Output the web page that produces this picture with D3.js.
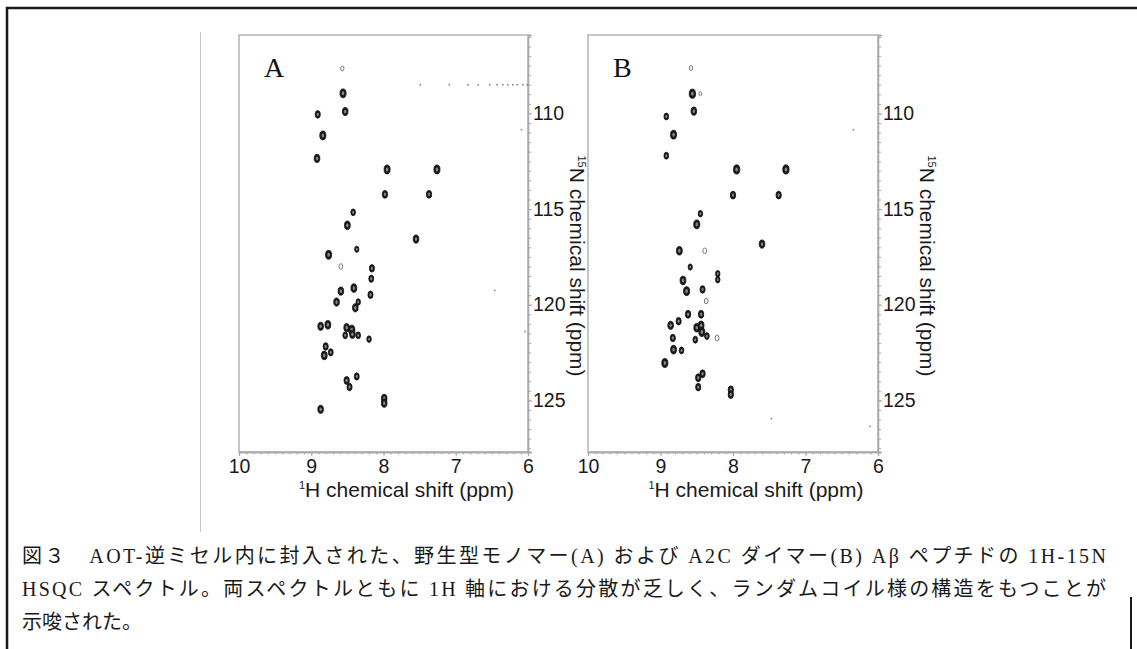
<!DOCTYPE html>
<html>
<head>
<meta charset="utf-8">
<script src="https://cdn.jsdelivr.net/npm/d3@7"></script>
<style>
  body { margin: 0; background: #fff; }
  svg { display: block; }
</style>
</head>
<body>
<script>
// axis values (ppm)
const hDomain = [10, 6]
const nDomain = [105.9, 127.7]
const hTicks = [10, 9, 8, 7, 6]
const nTicks = [110, 115, 120, 125]
const panelLabels = ["A", "B"]

// peaks: [1H ppm, 15N ppm, relative intensity]
const peaksA = [
  [8.57, 107.65, 0.3], [8.56, 108.95, 0.9], [8.53, 109.9, 0.8], [8.91, 110.05, 0.7],
  [8.84, 111.15, 0.9], [8.92, 112.35, 0.8], [7.95, 112.93, 0.9], [7.26, 112.93, 0.9],
  [7.98, 114.23, 0.75], [7.37, 114.23, 0.75], [8.42, 115.17, 0.6], [8.5, 115.85, 0.85],
  [7.55, 116.57, 0.8], [8.76, 117.39, 0.9], [8.37, 117.1, 0.5], [8.59, 118.0, 0.4],
  [8.16, 118.1, 0.7], [8.17, 118.64, 0.65], [8.59, 119.29, 0.8], [8.41, 119.13, 0.85],
  [8.18, 119.48, 0.7], [8.65, 119.86, 0.8], [8.35, 119.86, 0.55], [8.39, 120.16, 0.8],
  [8.87, 121.13, 0.8], [8.77, 121.05, 0.85], [8.51, 121.2, 0.8], [8.44, 121.31, 0.95],
  [8.53, 121.6, 0.6], [8.35, 121.6, 0.6], [8.43, 121.55, 0.8], [8.2, 121.8, 0.55],
  [8.8, 122.18, 0.7], [8.82, 122.65, 0.85], [8.73, 122.49, 0.65], [8.51, 123.96, 0.75],
  [8.47, 124.3, 0.7], [8.37, 123.75, 0.65], [7.99, 124.9, 0.8], [7.99, 125.15, 0.8],
  [8.87, 125.47, 0.8]
]
const noiseA = [
  [7.49, 108.5], [7.09, 108.5], [6.83, 108.5], [6.69, 108.5], [6.53, 108.5], [6.43, 108.5],
  [6.35, 108.5], [6.28, 108.5], [6.21, 108.5], [6.15, 108.5], [6.07, 108.5], [6.01, 108.5],
  [6.09, 110.85], [6.46, 119.25], [6.04, 121.4]
]

const peaksB = [
  [8.58, 107.63, 0.3], [8.56, 108.97, 0.95], [8.45, 108.97, 0.2], [8.54, 109.88, 0.8],
  [8.92, 110.16, 0.6], [8.82, 111.11, 0.9], [8.92, 112.21, 0.6], [7.95, 112.93, 0.95],
  [7.27, 112.93, 0.95], [8.0, 114.27, 0.75], [7.37, 114.27, 0.75], [8.45, 115.24, 0.55],
  [8.5, 115.8, 0.9], [7.6, 116.83, 0.8], [8.74, 117.18, 0.85], [8.39, 117.18, 0.4],
  [8.59, 118.03, 0.5], [8.21, 118.38, 0.55], [8.21, 118.69, 0.55], [8.69, 118.73, 0.85],
  [8.64, 119.29, 0.9], [8.42, 119.2, 0.7], [8.37, 119.81, 0.4], [8.62, 120.5, 0.75],
  [8.44, 120.5, 0.75], [8.75, 120.86, 0.7], [8.86, 121.08, 0.8], [8.5, 121.2, 0.85],
  [8.44, 121.08, 0.85], [8.43, 121.43, 0.9], [8.36, 121.64, 0.6], [8.52, 121.83, 0.6],
  [8.22, 121.74, 0.45], [8.83, 121.74, 0.7], [8.82, 122.35, 0.85], [8.71, 122.39, 0.6],
  [8.94, 123.05, 0.9], [8.42, 123.61, 0.75], [8.48, 123.82, 0.75], [8.48, 124.31, 0.7],
  [8.03, 124.45, 0.75], [8.03, 124.7, 0.75]
]
const noiseB = [[6.34, 110.85], [7.47, 125.96], [6.11, 126.36]]

const captionLines = [
  "図３　AOT-逆ミセル内に封入された、野生型モノマー(A) および A2C ダイマー(B) Aβ ペプチドの 1H-15N",
  "HSQC スペクトル。両スペクトルともに 1H 軸における分散が乏しく、ランダムコイル様の構造をもつことが",
  "示唆された。"
]

const width = 1137, height = 649
const svg = d3.select("body").append("svg")
  .attr("width", width)
  .attr("height", height)

// page border and separator
svg.append("path")
  .attr("d", "M7,649 V8 H1137")
  .attr("fill", "none")
  .attr("stroke", "#1a1a1a")
  .attr("stroke-width", 2.5)
svg.append("line")
  .attr("x1", 1131).attr("x2", 1131).attr("y1", 597).attr("y2", 649)
  .attr("stroke", "#1a1a1a").attr("stroke-width", 2)
svg.append("line")
  .attr("x1", 200.5).attr("x2", 200.5).attr("y1", 32).attr("y2", 532)
  .attr("stroke", "#c8c8c8").attr("stroke-width", 1)

const panels = [
  {left: 239, right: 528, top: 35, bottom: 452, peaks: peaksA, noise: noiseA},
  {left: 588, right: 878, top: 35, bottom: 452, peaks: peaksB, noise: noiseB}
]

const sizeScale = d3.scaleLinear().domain([0, 1]).range([1.4, 4.8])
const axisFont = "'Liberation Sans', Arial, Helvetica, sans-serif"

function drawPanel(p, i) {
  const g = svg.append("g")
  const x = d3.scaleLinear().domain(hDomain).range([p.left, p.right])
  const y = d3.scaleLinear().domain(nDomain).range([p.top, p.bottom])

  // frame
  g.append("rect")
    .attr("x", p.left).attr("y", p.top)
    .attr("width", p.right - p.left).attr("height", p.bottom - p.top)
    .attr("fill", "#fff")
    .attr("stroke", "#a8a8a8").attr("stroke-width", 1.3)

  // minor ticks
  const xMinor = d3.axisBottom(x).tickValues(d3.range(60, 101).map(v => v / 10))
    .tickSize(2.5).tickFormat("")
  g.append("g").attr("transform", `translate(0,${p.bottom})`).call(xMinor)
  const yMinor = d3.axisRight(y).tickValues(d3.range(212, 256).map(v => v / 2))
    .tickSize(3).tickFormat("")
  g.append("g").attr("transform", `translate(${p.right},0)`).call(yMinor)

  // major ticks with labels
  const xAxis = d3.axisBottom(x).tickValues(hTicks).tickSize(4).tickPadding(3)
    .tickFormat(d3.format("d"))
  g.append("g").attr("class", "xaxis").attr("transform", `translate(0,${p.bottom})`).call(xAxis)
  const yAxis = d3.axisRight(y).tickValues(nTicks).tickSize(4).tickPadding(1)
    .tickFormat(d3.format("d"))
  g.append("g").attr("class", "yaxis").attr("transform", `translate(${p.right},0)`).call(yAxis)

  g.selectAll(".domain").attr("stroke", "#a8a8a8").attr("stroke-width", 1.3)
  g.selectAll(".tick line").attr("stroke", "#a8a8a8")
  g.selectAll(".tick text")
    .attr("font-family", axisFont)
    .attr("font-size", 19.5)
    .attr("fill", "#1a1a1a")

  // axis titles
  const xt = g.append("text")
    .attr("x", (p.left + p.right) / 2 + 23)
    .attr("y", 497)
    .attr("text-anchor", "middle")
    .attr("font-family", axisFont)
    .attr("font-size", 21)
    .attr("fill", "#1a1a1a")
  xt.append("tspan").attr("font-size", 11).attr("dy", -8).text("1")
  xt.append("tspan").attr("dy", 8).text("H chemical shift (ppm)")

  const yt = g.append("text")
    .attr("transform", `translate(${p.right + 42},266) rotate(90)`)
    .attr("text-anchor", "middle")
    .attr("font-family", axisFont)
    .attr("font-size", 21)
    .attr("fill", "#1a1a1a")
  yt.append("tspan").attr("font-size", 11).attr("dy", -8).text("15")
  yt.append("tspan").attr("dy", 8).text("N chemical shift (ppm)")

  // panel letter
  g.append("text")
    .attr("x", p.left + 25)
    .attr("y", 77)
    .attr("font-family", "'Liberation Serif', 'Times New Roman', serif")
    .attr("font-size", 28)
    .attr("fill", "#111")
    .text(panelLabels[i])

  // noise specks
  g.selectAll("circle.noise")
    .data(p.noise)
    .enter().append("circle")
    .attr("class", "noise")
    .attr("cx", d => x(d[0]))
    .attr("cy", d => y(d[1]))
    .attr("r", 0.9)
    .attr("fill", "#888")

  // peaks drawn as contour-like rings
  const pk = g.selectAll("g.peak")
    .data(p.peaks)
    .enter().append("g")
    .attr("class", "peak")
    .attr("transform", d => `translate(${x(d[0])},${y(d[1])})`)
  pk.append("ellipse")
    .attr("rx", d => sizeScale(d[2]) * 0.68)
    .attr("ry", d => sizeScale(d[2]))
    .attr("fill", d => d[2] < 0.5 ? "#fff" : "#1a1a1a")
    .attr("stroke", d => d[2] < 0.5 ? "#777" : "#111")
    .attr("stroke-width", d => d[2] < 0.5 ? 1 : 0.8)
  pk.filter(d => d[2] >= 0.5).append("ellipse")
    .attr("rx", d => sizeScale(d[2]) * 0.28)
    .attr("ry", d => sizeScale(d[2]) * 0.45)
    .attr("fill", "#888")
}

panels.forEach(drawPanel)

// caption
const cap = svg.append("g")
  .attr("font-family", "'Liberation Serif', 'Noto Sans CJK JP', serif")
  .attr("font-size", 20)
  .attr("fill", "#1a1a1a")
cap.selectAll("text")
  .data(captionLines)
  .enter().append("text")
  .attr("x", 22)
  .attr("y", (d, i) => 563 + i * 33)
  .attr("textLength", (d, i) => i < 2 ? 1084 : null)
  .attr("lengthAdjust", "spacing")
  .text(d => d)
</script>
</body>
</html>
